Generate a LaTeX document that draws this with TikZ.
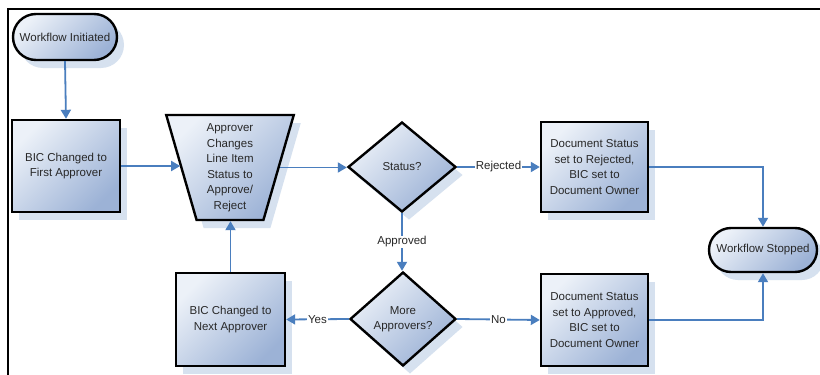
\documentclass[tikz,border=0pt]{standalone}
\usepackage{fontspec}
\setmainfont{Liberation Sans}
\usetikzlibrary{shapes.geometric,shapes.misc,shadows,arrows.meta}
\definecolor{flowc}{RGB}{74,126,190}
\definecolor{lightc}{RGB}{236,241,248}
\definecolor{darkc}{RGB}{156,178,214}
\definecolor{shadowc}{RGB}{214,225,239}
\definecolor{textc}{RGB}{40,40,40}
\tikzset{
  boxbase/.style={draw=black, line width=2.4pt, top color=lightc, bottom color=darkc, shading angle=45,
    general shadow={fill=shadowc, shadow xshift=7pt, shadow yshift=-8pt},
    font=\fontsize{11.5}{15.5}\selectfont, text=textc, align=center, inner sep=1pt},
  procbox/.style={boxbase, rectangle},
  termbox/.style={boxbase, rounded rectangle},
  decbox/.style={boxbase, diamond, aspect=1.2, inner sep=0pt},
  manbox/.style={boxbase, trapezium, trapezium stretches=true, trapezium left angle=76, trapezium right angle=76, shape border rotate=180},
  flow/.style={draw=flowc, line width=1.8pt, -{Triangle[length=9pt,width=10pt]}},
  lbl/.style={fill=white, text=textc, inner sep=1pt, font=\fontsize{11.5}{14}\selectfont}
}
\begin{document}
\begin{tikzpicture}[x=1pt,y=-1pt]
\useasboundingbox (0,0) rectangle (820,375);
\fill[white] (0,0) rectangle (820,375);
\draw[line width=1.3pt] (8,375) -- (8,9) -- (820,9);

\node[termbox, minimum width=106pt, minimum height=46pt] (start) at (65,37) {Workflow Initiated};
\node[procbox, minimum width=108pt, minimum height=92pt] (bic1) at (66,166) {BIC Changed to\\First Approver};
\node[manbox, minimum width=128pt, minimum height=105pt] (appr) at (230,167.5) {Approver\\Changes\\Line Item\\Status to\\Approve/\\Reject};
\node[decbox, minimum width=108pt, minimum height=90pt] (status) at (402,167) {Status?};
\node[procbox, minimum width=107pt, minimum height=90pt] (rej) at (594.5,167) {Document Status\\set to Rejected,\\BIC set to\\Document Owner};
\node[termbox, minimum width=110pt, minimum height=44pt] (stop) at (763,250) {Workflow Stopped};
\node[decbox, minimum width=106pt, minimum height=94pt] (more) at (403,319) {More\\Approvers?};
\node[procbox, minimum width=109pt, minimum height=93pt] (bic2) at (230.5,319.5) {BIC Changed to\\Next Approver};
\node[procbox, minimum width=107pt, minimum height=92pt] (app) at (594.5,320) {Document Status\\set to Approved,\\BIC set to\\Document Owner};

\draw[flow] (start.south) -- (bic1.north);
\draw[flow] (bic1.east) -- (bic1.east -| appr.west);
\draw[flow] (appr.east) -- (appr.east -| status.west);
\draw[flow] (status.east) -- node[lbl] {Rejected} (rej.west);
\draw[flow] (rej.east) -| (stop.north);
\draw[flow] (status.south) -- node[lbl] {Approved} (status.south |- more.north);
\draw[flow] (more.west) -- node[lbl] {Yes} (bic2.east);
\draw[flow] (bic2.north) -- (bic2.north |- appr.south);
\draw[flow] (more.east) -- node[lbl] {No} (app.west);
\draw[flow] (app.east) -| (stop.south);
\end{tikzpicture}
\end{document}
